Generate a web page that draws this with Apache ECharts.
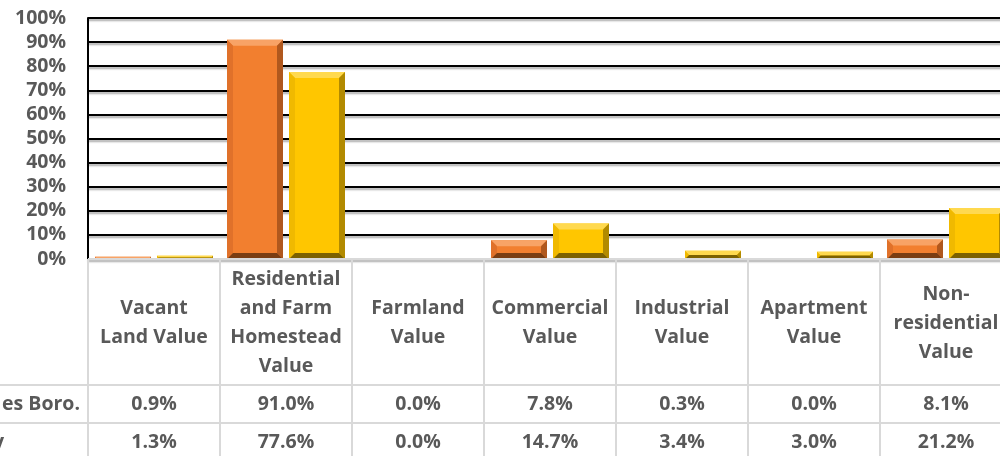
<!DOCTYPE html>
<html>
<head>
    <meta charset="utf-8">
    <title>Share of assessed value</title>
    <script src="https://cdn.jsdelivr.net/npm/echarts@6/dist/echarts.min.js"></script>
    <style>
        body { margin: 0; background: #fff; }
        #chartmain { width: 1000px; height: 456px; }
    </style>
</head>
<body>
<div id="chartmain"></div>
<script>
    // data
    var categories = ['Vacant Land Value', 'Residential and Farm Homestead Value', 'Farmland Value',
        'Commercial Value', 'Industrial Value', 'Apartment Value', 'Non-residential Value'];
    var headerLabels = ['Vacant\nLand Value', 'Residential\nand Farm\nHomestead\nValue', 'Farmland\nValue',
        'Commercial\nValue', 'Industrial\nValue', 'Apartment\nValue', 'Non-\nresidential\nValue'];
    var rowNames = ['es Boro.', 'y'];
    var boroValues = [0.9, 91.0, 0.0, 7.8, 0.3, 0.0, 8.1];
    var countyValues = [1.3, 77.6, 0.0, 14.7, 3.4, 3.0, 21.2];

    var textGray = '#595959';
    var lineGray = '#d9d9d9';
    var font = 'bold 19.5px "Open Sans"';

    var orange = {front: '#F27F2F', top: '#F8A366', left: '#E0712A', right: '#B0581E', bottom: '#7A3D12'};
    var yellow = {front: '#FFC600', top: '#FFD94F', left: '#F0B900', right: '#B28A00', bottom: '#7C6100'};

    // bevelled bar, placed from the axis scales
    function bevelBar(side, pal) {
        return function (params, api) {
            var v = api.value(1);
            if (!v) return {type: 'group', children: []};
            var ci = api.value(0);
            var p0 = api.coord([ci, 0]);
            var p1 = api.coord([ci, v]);
            var band = api.size([1, 0])[0];
            var bw = band * 56 / 132, gap = band * 6 / 132;
            var x0 = side === 0 ? p0[0] - gap / 2 - bw : p0[0] + gap / 2;
            var x1 = x0 + bw, y0 = p1[1], y1 = p0[1];
            var b = Math.min(6, (y1 - y0) / 2);
            function poly(pts, c) {
                return {type: 'polygon', shape: {points: pts}, style: {fill: c}};
            }
            return {
                type: 'group',
                children: [
                    {type: 'rect', shape: {x: x0, y: y0, width: bw, height: y1 - y0}, style: {fill: pal.front}},
                    poly([[x0, y0], [x1, y0], [x1 - b, y0 + b], [x0 + b, y0 + b]], pal.top),
                    poly([[x0, y0], [x0 + b, y0 + b], [x0 + b, y1 - b], [x0, y1]], pal.left),
                    poly([[x1, y0], [x1, y1], [x1 - b, y1 - b], [x1 - b, y0 + b]], pal.right),
                    poly([[x0, y1], [x1, y1], [x1 - b, y1 - b], [x0 + b, y1 - b]], pal.bottom)
                ]
            };
        };
    }

    var myChart = echarts.init(document.getElementById('chartmain'));
    var option = {
        animation: false,
        grid: {left: 88, right: -12, top: 18, bottom: 197, containLabel: false, outerBoundsMode: 'none'},
        xAxis: {
            type: 'category',
            data: categories,
            axisLine: {show: false},
            axisTick: {show: false},
            axisLabel: {show: false}
        },
        yAxis: {
            type: 'value',
            min: 0,
            max: 100,
            interval: 10,
            axisLine: {show: true, lineStyle: {color: '#000', width: 2}},
            axisTick: {show: true, inside: true, length: 5, lineStyle: {color: '#000', width: 2}},
            axisLabel: {formatter: '{value}%', color: textGray, fontFamily: 'Open Sans', fontWeight: 'bold', fontSize: 19.5, margin: 22},
            splitLine: {
                lineStyle: {color: '#000', width: 2, shadowColor: 'rgba(0,0,0,0.35)', shadowBlur: 2, shadowOffsetY: 2}
            }
        },
        series: [
            {
                name: rowNames[0],
                type: 'custom',
                renderItem: bevelBar(0, orange),
                encode: {x: 0, y: 1},
                data: boroValues.map(function (v, i) { return [i, v]; })
            },
            {
                name: rowNames[1],
                type: 'custom',
                renderItem: bevelBar(1, yellow),
                encode: {x: 0, y: 1},
                data: countyValues.map(function (v, i) { return [i, v]; })
            }
        ]
    };
    myChart.setOption(option);

    // data table under the plot
    var xs = categories.map(function (c, i) { return myChart.convertToPixel({xAxisIndex: 0}, i); });
    var yBase = myChart.convertToPixel({yAxisIndex: 0}, 0);
    var band = xs[1] - xs[0];
    var headBottom = yBase + 126;
    var row1Bottom = headBottom + 38;
    var row2Bottom = row1Bottom + 38;
    var g = [];
    function hline(x1, x2, y) {
        g.push({type: 'line', z: 50, shape: {x1: x1, y1: y, x2: x2, y2: y}, style: {stroke: lineGray, lineWidth: 2}});
    }
    function txt(s, x, y, align) {
        g.push({type: 'text', z: 51, style: {text: s, x: x, y: y, align: align || 'center', verticalAlign: 'middle',
            font: font, lineHeight: 29, fill: textGray}});
    }
    hline(xs[0] - band / 2, 1000, yBase);
    hline(0, 1000, headBottom);
    hline(0, 1000, row1Bottom);
    for (var k = 0; k <= categories.length; k++) {
        var bx = xs[0] - band / 2 + k * band;
        g.push({type: 'line', z: 50, shape: {x1: bx, y1: yBase, x2: bx, y2: 456}, style: {stroke: lineGray, lineWidth: 2}});
    }
    headerLabels.forEach(function (h, i) {
        txt(h, xs[i], (yBase + headBottom) / 2 + 1);
        txt(boroValues[i].toFixed(1) + '%', xs[i], (headBottom + row1Bottom) / 2);
        txt(countyValues[i].toFixed(1) + '%', xs[i], (row1Bottom + row2Bottom) / 2);
    });
    txt(rowNames[0], 80, (headBottom + row1Bottom) / 2, 'right');
    txt(rowNames[1], 4, (row1Bottom + row2Bottom) / 2, 'right');
    myChart.setOption({graphic: g});
</script>
</body>
</html>
